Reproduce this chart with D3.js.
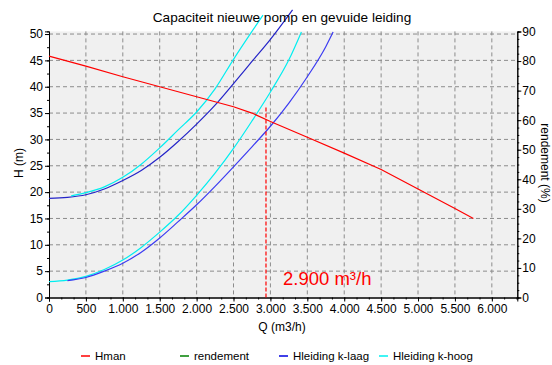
<!DOCTYPE html>
<html>
<head>
<meta charset="utf-8">
<script src="https://cdn.jsdelivr.net/npm/d3@7"></script>
<style>
  body { margin: 0; background: #fff; }
  svg { font-family: "Liberation Sans", Arial, sans-serif; }
</style>
</head>
<body>
<svg id="chart" width="552" height="365"></svg>
<script>
const width = 552;
const height = 365;

// Hman (pompkarakteristiek)
const hmanQ = [0, 500, 1000, 1500, 2000, 2500, 2750, 3000, 3500, 4000, 4500, 5000, 5500, 5750];
const hmanH = [45.8, 43.9, 41.9, 40.0, 38.1, 36.2, 35.0, 33.4, 30.4, 27.4, 24.3, 20.6, 16.9, 15.0];

// rendement: geen punten zichtbaar
const rendQ = [];
const rendPct = [];

// Hleiding k-laag (twee krommen)
const kLaagUpperQ = [0, 250, 500, 750, 1000, 1250, 1500, 1750, 2000, 2250, 2500, 2750, 3000, 3300];
const kLaagUpperH = [18.8, 19.0, 19.5, 20.6, 22.2, 24.1, 26.6, 29.6, 32.9, 36.5, 40.6, 44.8, 49.0, 54.6];
const kLaagLowerQ = [250, 500, 750, 1000, 1250, 1500, 1750, 2000, 2250, 2500, 2750, 3000, 3250, 3500, 3750, 3850];
const kLaagLowerH = [3.2, 3.8, 5.0, 6.5, 8.6, 11.3, 14.4, 17.6, 21.1, 24.8, 28.6, 32.5, 36.9, 41.9, 47.6, 50.4];

// Hleiding k-hoog (twee krommen)
const kHoogUpperQ = [300, 500, 750, 1000, 1250, 1500, 1750, 2000, 2250, 2500, 2750, 2900];
const kHoogUpperH = [19.3, 19.9, 21.0, 22.8, 25.3, 28.4, 31.8, 35.2, 39.6, 45.2, 50.5, 53.6];
const kHoogLowerQ = [0, 250, 500, 750, 1000, 1250, 1500, 1750, 2000, 2250, 2500, 2750, 3000, 3250, 3420];
const kHoogLowerH = [3.0, 3.3, 4.0, 5.3, 7.1, 9.5, 12.4, 15.6, 19.4, 23.6, 28.3, 33.5, 39.0, 45.1, 50.4];

// werkpunt
const opQ = 2940;
const opH = 36.3;
const opLabel = "2.900 m³/h";

const qTicks = [0, 500, 1000, 1500, 2000, 2500, 3000, 3500, 4000, 4500, 5000, 5500, 6000];
const hTicks = [0, 5, 10, 15, 20, 25, 30, 35, 40, 45, 50];
const pctTicks = [0, 10, 20, 30, 40, 50, 60, 70, 80, 90];

const legendNames = ["Hman", "rendement", "Hleiding k-laag", "Hleiding k-hoog"];
const legendColors = ["#ff0000", "#008000", "#0000e0", "#00f0f0"];

const plot = { left: 49, right: 517.3, top: 31.4, bottom: 297.5 };

const x = d3.scaleLinear().domain([0, 6345]).range([plot.left, plot.right]);
const y = d3.scaleLinear().domain([0, 50.5]).range([plot.bottom, plot.top]);
const yR = d3.scaleLinear().domain([0, 90]).range([plot.bottom, 31.5]);

const nl = d3.formatLocale({ decimal: ",", thousands: ".", grouping: [3], currency: ["€", ""] });
const fmtQ = nl.format(",d");

const svg = d3.select("#chart");

// plot background
svg.append("rect")
   .attr("x", plot.left).attr("y", plot.top)
   .attr("width", plot.right - plot.left).attr("height", plot.bottom - plot.top)
   .attr("fill", "#f0f0f0");

// grid
svg.append("g").selectAll("line")
   .data(qTicks.slice(1))
   .enter().append("line")
   .attr("x1", d => x(d)).attr("x2", d => x(d))
   .attr("y1", plot.top).attr("y2", plot.bottom)
   .attr("stroke", "#8c8c8c").attr("stroke-dasharray", "4,3");

svg.append("g").selectAll("line")
   .data(hTicks.slice(1))
   .enter().append("line")
   .attr("x1", plot.left).attr("x2", plot.right)
   .attr("y1", d => y(d)).attr("y2", d => y(d))
   .attr("stroke", "#8c8c8c").attr("stroke-dasharray", "4,3");

// axes
const xAxis = d3.axisBottom(x).tickValues(qTicks).tickFormat(fmtQ).tickSize(4).tickPadding(3);
const xMinor = d3.axisBottom(x).tickValues(d3.range(0, 6345, 500 / 3)).tickFormat("").tickSize(2);
const yAxis = d3.axisLeft(y).tickValues(hTicks).tickSize(4).tickPadding(2);
const yMinor = d3.axisLeft(y).tickValues(d3.range(0, 50.5, 2.5)).tickFormat("").tickSize(2);
const yRAxis = d3.axisRight(yR).tickValues(pctTicks).tickSize(4).tickPadding(1);
const yRMinor = d3.axisRight(yR).tickValues(d3.range(0, 90.1, 2.5)).tickFormat("").tickSize(2);

function styleAxis(g) {
  g.select(".domain").attr("stroke", "#000");
  g.selectAll(".tick line").attr("stroke", "#000");
  g.selectAll("text").attr("fill", "#000").attr("font-size", 12)
   .attr("font-family", "'Liberation Sans', Arial, sans-serif");
}

svg.append("g").attr("transform", `translate(0,${plot.bottom})`).call(xMinor).call(styleAxis);
svg.append("g").attr("transform", `translate(0,${plot.bottom})`).call(xAxis).call(styleAxis);
svg.append("g").attr("transform", `translate(${plot.left},0)`).call(yMinor).call(styleAxis);
svg.append("g").attr("transform", `translate(${plot.left},0)`).call(yAxis).call(styleAxis);
svg.append("g").attr("transform", `translate(${plot.right},0)`).call(yRMinor).call(styleAxis);
svg.append("g").attr("transform", `translate(${plot.right},0)`).call(yRAxis).call(styleAxis);

// curves
const smooth = d3.line().x(d => x(d[0])).y(d => y(d[1])).curve(d3.curveMonotoneX);
const straight = d3.line().x(d => x(d[0])).y(d => y(d[1]));
const zip = (a, b) => a.map((v, i) => [v, b[i]]);

const curves = [
  { pts: zip(kHoogLowerQ, kHoogLowerH), color: "#00eef0", gen: smooth },
  { pts: zip(kLaagLowerQ, kLaagLowerH), color: "#3b3bf2", gen: smooth },
  { pts: zip(kLaagUpperQ, kLaagUpperH), color: "#2424c8", gen: smooth },
  { pts: zip(kHoogUpperQ, kHoogUpperH), color: "#00eef0", gen: smooth },
  { pts: zip(hmanQ, hmanH), color: "#ff0000", gen: straight }
];

svg.append("g").selectAll("path")
   .data(curves)
   .enter().append("path")
   .attr("d", c => c.gen(c.pts))
   .attr("fill", "none")
   .attr("stroke", c => c.color)
   .attr("stroke-width", 1.2);

// werkpunt lijn
svg.append("line")
   .attr("x1", x(opQ)).attr("x2", x(opQ))
   .attr("y1", y(0)).attr("y2", y(opH))
   .attr("stroke", "#ff0000").attr("stroke-width", 1.2)
   .attr("stroke-dasharray", "4,2");

svg.append("text")
   .attr("x", 283).attr("y", 285)
   .attr("fill", "#ff0000")
   .attr("font-size", 18.5)
   .text(opLabel);

// titles
svg.append("text")
   .attr("x", 282).attr("y", 22)
   .attr("text-anchor", "middle")
   .attr("font-size", 13.6)
   .text("Capaciteit nieuwe pomp en gevuide leiding");

svg.append("text")
   .attr("x", 282).attr("y", 331)
   .attr("text-anchor", "middle")
   .attr("font-size", 12)
   .text("Q (m3/h)");

svg.append("text")
   .attr("transform", "translate(23,163) rotate(-90)")
   .attr("text-anchor", "middle")
   .attr("font-size", 12)
   .text("H (m)");

svg.append("text")
   .attr("transform", "translate(541,163) rotate(90)")
   .attr("text-anchor", "middle")
   .attr("font-size", 12)
   .text("rendement (%)");

// legend
const legendX = [81, 180, 279, 379];
const lg = svg.append("g").selectAll("g")
   .data(legendNames)
   .enter().append("g")
   .attr("transform", (d, i) => `translate(${legendX[i]},356)`);

lg.append("line")
  .attr("x1", 0).attr("x2", 9).attr("y1", 0).attr("y2", 0)
  .attr("stroke", (d, i) => legendColors[i]).attr("stroke-width", 1.5);

lg.append("text")
  .attr("x", 14).attr("y", 4)
  .attr("font-size", 11.5)
  .text(d => d);
</script>
</body>
</html>
